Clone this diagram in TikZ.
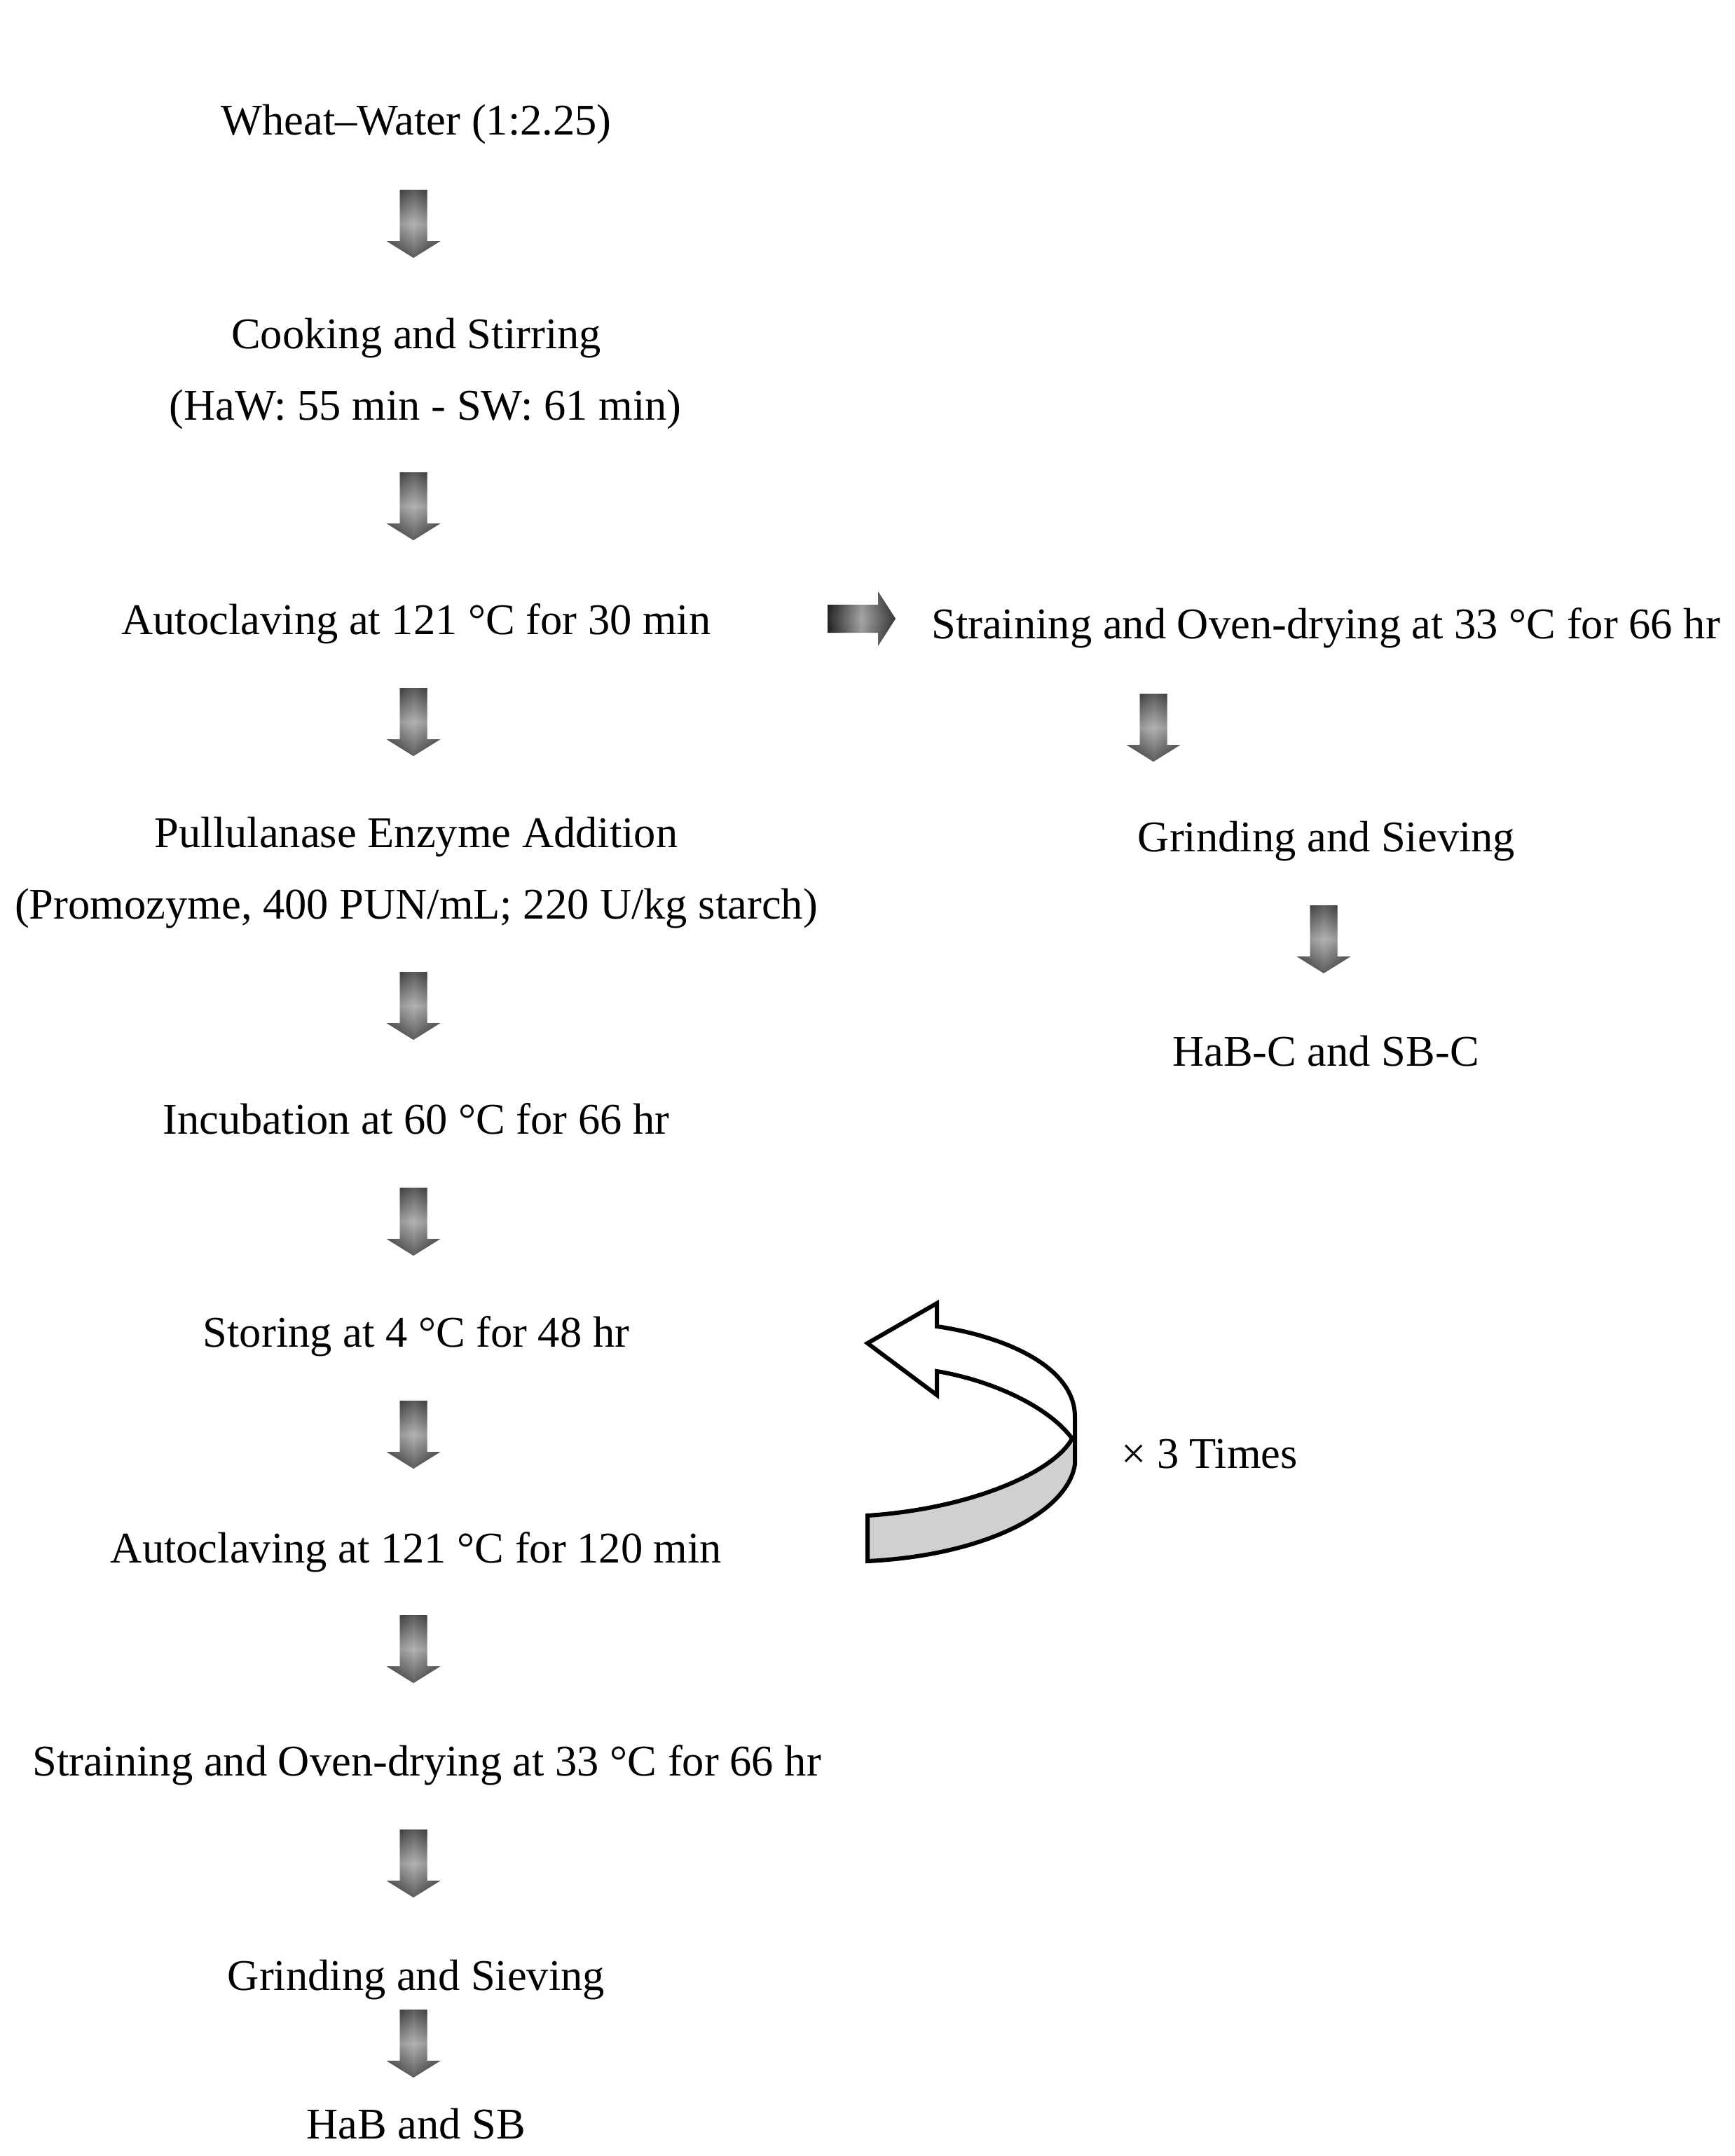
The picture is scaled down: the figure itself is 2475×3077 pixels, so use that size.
\documentclass[tikz,border=0pt]{standalone}
\usepackage{fontspec}
\setmainfont{Liberation Serif}
\usetikzlibrary{calc}
\definecolor{ribbon}{RGB}{208,208,208}
\tikzset{
  lbl/.style={anchor=base, inner sep=0pt, font=\fontsize{62.5}{75}\selectfont},
  downblk/.pic={
    \path[top color=black!92, bottom color=black!90, middle color=black!30]
      (-19.5,0) -- (19.5,0) -- (19.5,73) -- (38.5,73) -- (0,97) -- (-38.5,73) -- (-19.5,73) -- cycle;
    \path[left color=black!75, right color=black!75, middle color=black!30, opacity=0.45]
      (-19.5,0) -- (19.5,0) -- (19.5,73) -- (38.5,73) -- (0,97) -- (-38.5,73) -- (-19.5,73) -- cycle;
  },
  rightblk/.pic={
    \path[left color=black, right color=black!92, middle color=black!35]
      (0,-20) -- (72,-20) -- (72,-39) -- (97,0) -- (72,39) -- (72,20) -- (0,20) -- cycle;
    \path[top color=black!70, bottom color=black!70, middle color=black!35, opacity=0.25]
      (0,-20) -- (72,-20) -- (72,-39) -- (97,0) -- (72,39) -- (72,20) -- (0,20) -- cycle;
  },
  loopline/.style={line width=6pt, line join=miter, draw=black}
}
\begin{document}
\begin{tikzpicture}[x=1pt,y=-1pt]
\useasboundingbox (0,0) rectangle (2475,3077);
% left column
\node[lbl] (n1)  at (594,193)  {Wheat–Water (1:2.25)};
\node[lbl] (n2a) at (594,497)  {Cooking and Stirring};
\node[lbl] (n2b) at (607,599)  {(HaW: 55 min - SW: 61 min)};
\node[lbl] (n3)  at (594,905)  {Autoclaving at 121 °C for 30 min};
\node[lbl] (n4a) at (594,1209) {Pullulanase Enzyme Addition};
\node[lbl] (n4b) at (594,1311) {(Promozyme, 400 PUN/mL; 220 U/kg starch)};
\node[lbl] (n5)  at (594,1618) {Incubation at 60 °C for 66 hr};
\node[lbl] (n6)  at (594,1922) {Storing at 4 °C for 48 hr};
\node[lbl] (n7)  at (594,2230) {Autoclaving at 121 °C for 120 min};
\node[lbl] (n8)  at (609,2534) {Straining and Oven-drying at 33 °C for 66 hr};
\node[lbl] (n9)  at (594,2840) {Grinding and Sieving};
\node[lbl] (n10) at (594,3052) {HaB and SB};
% right column
\node[lbl] (r1) at (1892,911)  {Straining and Oven-drying at 33 °C for 66 hr};
\node[lbl] (r2) at (1893,1215) {Grinding and Sieving};
\node[lbl] (r3) at (1892,1521) {HaB-C and SB-C};
\node[lbl, anchor=base west] (times) at (1600,2095) {× 3 Times};
% block arrows (left column)
\pic at (590,271)  {downblk};
\pic at (590,674)  {downblk};
\pic at (590,982)  {downblk};
\pic at (590,1387) {downblk};
\pic at (590,1695) {downblk};
\pic at (590,1999) {downblk};
\pic at (590,2305) {downblk};
\pic at (590,2611) {downblk};
\pic at (590,2868) {downblk};
% right branch
\pic at (1181,883) {rightblk};
\pic at (1646,990)  {downblk};
\pic at (1889,1292) {downblk};
% repeat loop arrow
\fill[ribbon] (1530,2053) -- (1534,2053) -- (1534,2090)
  .. controls (1523,2160) and (1402,2220) .. (1238,2228)
  -- (1238,2163) .. controls (1388,2153) and (1505,2100) .. (1530,2053) -- cycle;
\draw[loopline] (1238,1917) -- (1337,1860) -- (1337,1893)
  .. controls (1433,1907) and (1534,1950) .. (1534,2022)
  -- (1534,2090)
  .. controls (1523,2160) and (1402,2220) .. (1238,2228)
  -- (1238,2163)
  .. controls (1388,2153) and (1505,2100) .. (1530,2053)
  .. controls (1496,2007) and (1415,1970) .. (1337,1957)
  -- (1337,1991) -- cycle;
\end{tikzpicture}
\end{document}
